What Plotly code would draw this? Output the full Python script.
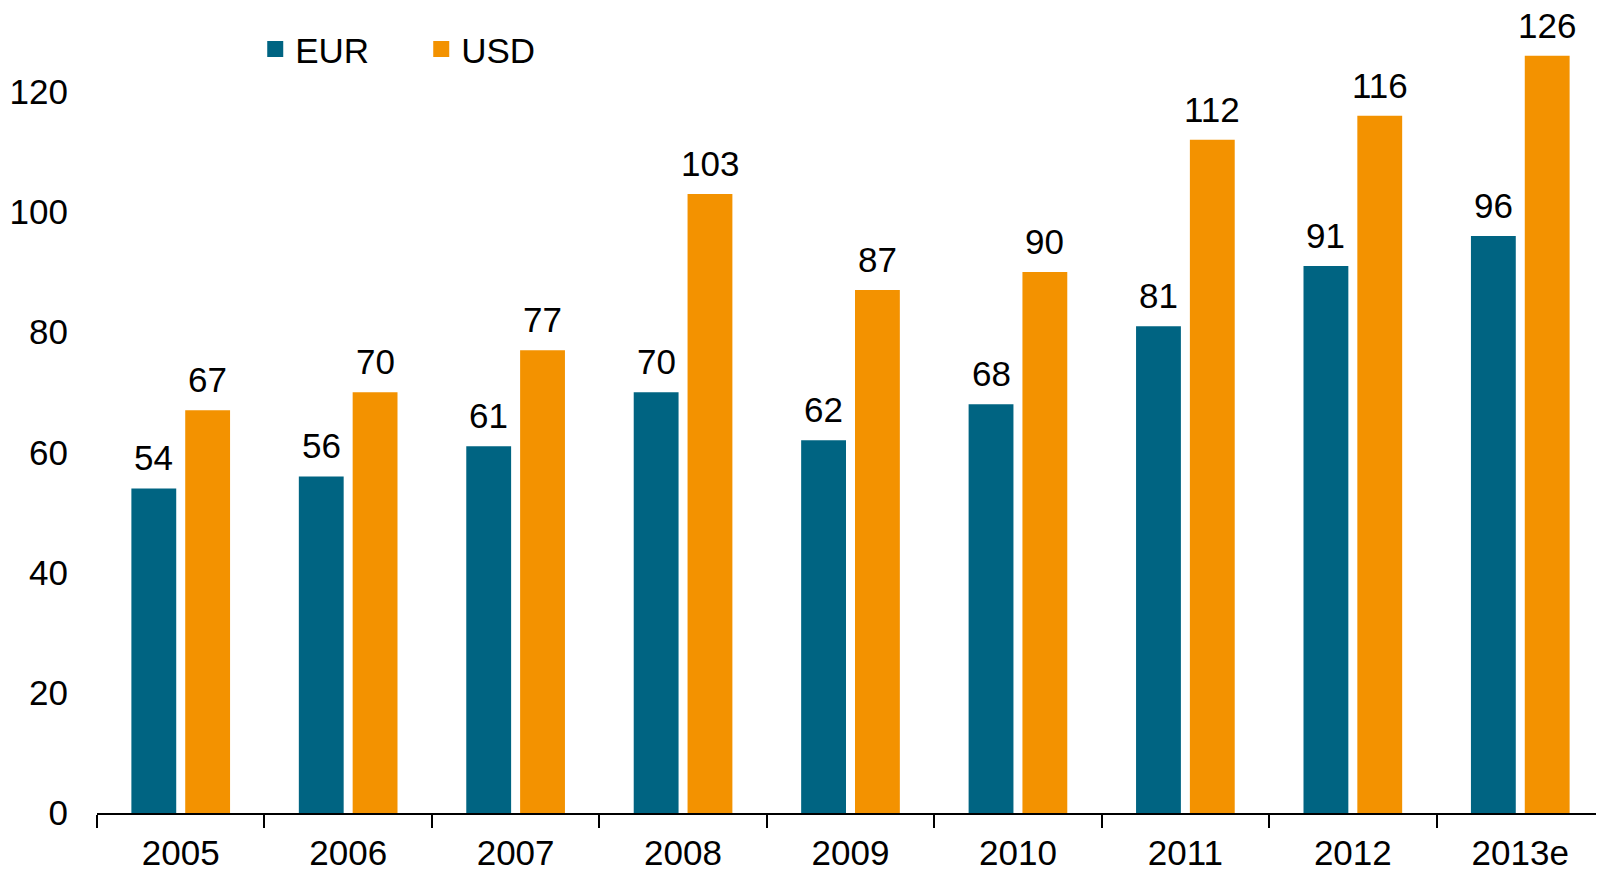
import plotly.graph_objects as go

years = ["2005", "2006", "2007", "2008", "2009", "2010", "2011", "2012", "2013e"]
eur = [54, 56, 61, 70, 62, 68, 81, 91, 96]
usd = [67, 70, 77, 103, 87, 90, 112, 116, 126]

EUR_COLOR = "#006482"
USD_COLOR = "#F39200"
FONT = "Liberation Sans, Arial, sans-serif"
FS = 35

bargap = 0.357
bargroupgap = 0.167
off = (1 - bargap) / 4

fig = go.Figure()
fig.add_trace(go.Bar(x=years, y=eur, name="EUR", marker_color=EUR_COLOR,
                     marker_line_width=0, showlegend=False))
fig.add_trace(go.Bar(x=years, y=usd, name="USD", marker_color=USD_COLOR,
                     marker_line_width=0, showlegend=False))
# legend proxies
fig.add_trace(go.Scatter(x=[None], y=[None], mode="markers", name="EUR",
                         marker=dict(symbol="square", size=19, color=EUR_COLOR)))
fig.add_trace(go.Scatter(x=[None], y=[None], mode="markers", name="USD",
                         marker=dict(symbol="square", size=19, color=USD_COLOR)))

for i, (e, u) in enumerate(zip(eur, usd)):
    fig.add_annotation(x=i - off, y=e, text=str(e), showarrow=False,
                       yanchor="bottom", yshift=9, font=dict(size=FS, color="black", family=FONT))
    fig.add_annotation(x=i + off, y=u, text=str(u), showarrow=False,
                       yanchor="bottom", yshift=9, font=dict(size=FS, color="black", family=FONT))

fig.update_layout(
    width=1596, height=863,
    barmode="group", bargap=bargap, bargroupgap=bargroupgap,
    plot_bgcolor="white", paper_bgcolor="white",
    margin=dict(l=89, r=0, t=2, b=58),
    font=dict(family=FONT, size=FS, color="black"),
    legend=dict(orientation="h", x=0.105, y=0.951, xanchor="left", yanchor="middle",
                entrywidth=121, entrywidthmode="pixels", itemwidth=30,
                font=dict(size=FS, family=FONT), bgcolor="rgba(0,0,0,0)"),
    xaxis=dict(type="category", showline=True, linecolor="black", linewidth=2,
               ticks="outside", tickson="boundaries", ticklen=13, tickwidth=2,
               tickcolor="black", showgrid=False, zeroline=False, automargin=False,
               ticklabelstandoff=8,
               tickfont=dict(size=FS, family=FONT), range=[-0.5, 8.5]),
    yaxis=dict(range=[0, 133.6], tickvals=[0, 20, 40, 60, 80, 100, 120],
               showgrid=False, zeroline=False, showline=False, ticks="",
               automargin=False,
               ticklabelstandoff=28, tickfont=dict(size=FS, family=FONT)),
)

fig.write_html("out.html")
